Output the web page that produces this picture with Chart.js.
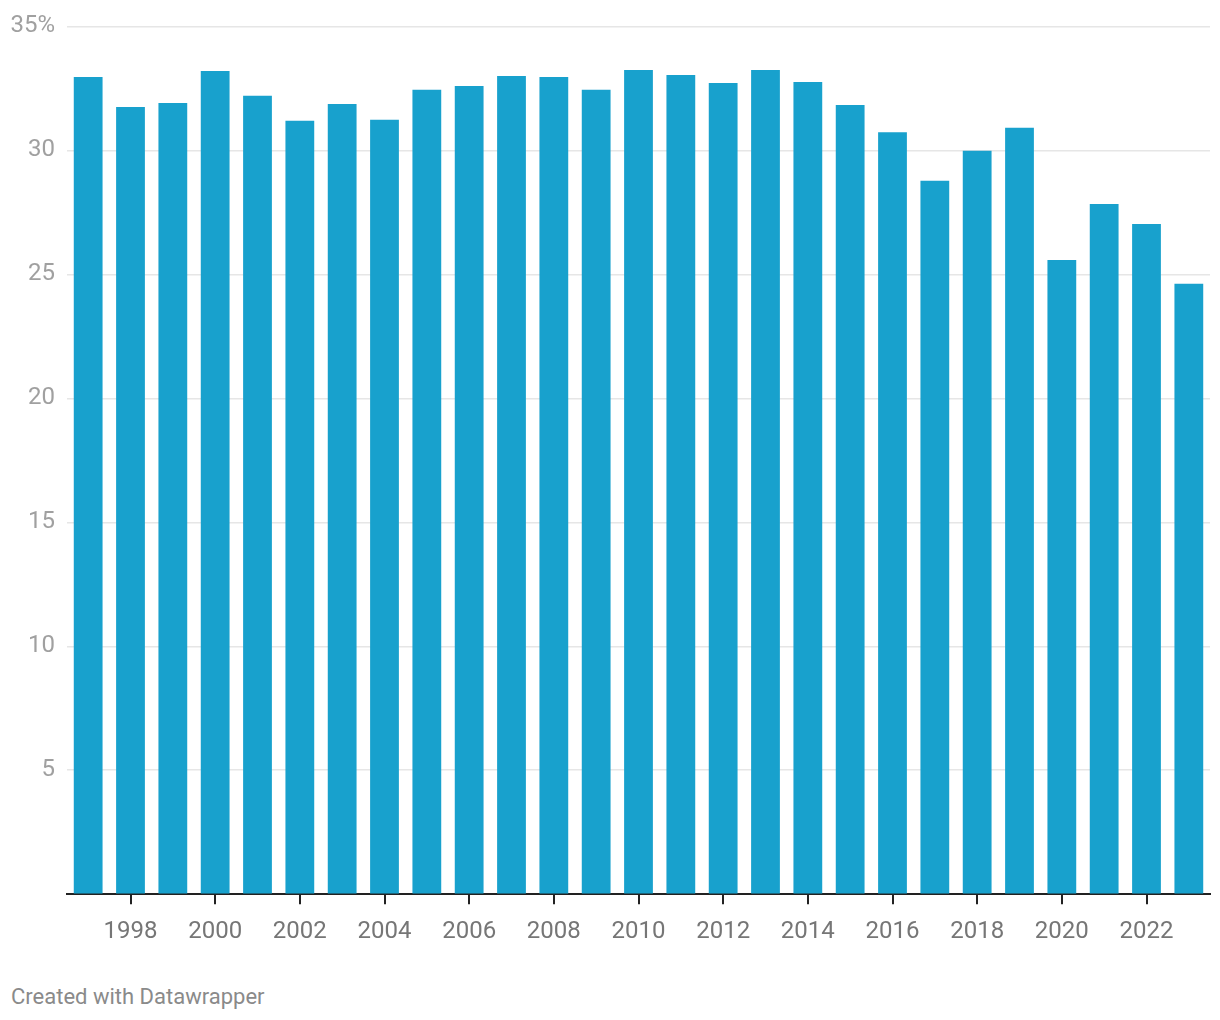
<!DOCTYPE html>
<html>
<head>
<meta charset="utf-8">
<script src="https://cdn.jsdelivr.net/npm/chart.js@4"></script>
<style>
  html, body { margin: 0; padding: 0; background: #fff; }
  body { width: 1220px; height: 1020px; position: relative; font-family: Roboto, sans-serif; }
  #wrap { position: absolute; left: 0; top: 0; width: 1220px; height: 959px; }
  #footer { position: absolute; left: 11px; top: 983px; font-size: 22px; color: #8a8a8a; line-height: 28px; }
</style>
</head>
<body>
<div id="wrap"><canvas id="barChart"></canvas></div>
<div id="footer">Created with Datawrapper</div>
<script>
// Share by year, in percent
const years = ['1997', '1998', '1999', '2000', '2001', '2002', '2003', '2004', '2005', '2006',
    '2007', '2008', '2009', '2010', '2011', '2012', '2013', '2014', '2015', '2016',
    '2017', '2018', '2019', '2020', '2021', '2022', '2023'];
const shares = [32.96, 31.75, 31.91, 33.2, 32.2, 31.19, 31.87, 31.23, 32.44, 32.6,
    33.0, 32.96, 32.44, 33.24, 33.04, 32.72, 33.24, 32.76, 31.83, 30.73,
    28.77, 29.98, 30.91, 25.58, 27.84, 27.03, 24.62];
const yTicks = [0, 5, 10, 15, 20, 25, 30, 35];

const barColor = '#18a1cd';

function initChart() {
    const ctx = document.getElementById('barChart').getContext('2d');

    new Chart(ctx, {
        type: 'bar',
        data: {
            labels: years,
            datasets: [{
                data: shares,
                backgroundColor: barColor,
                borderWidth: 0,
                barPercentage: 0.68,
                categoryPercentage: 1
            }]
        },
        options: {
            responsive: true,
            maintainAspectRatio: false,
            animation: false,
            layout: {
                padding: { top: 24, right: 10, left: 0, bottom: 0 }
            },
            plugins: {
                legend: { display: false },
                tooltip: { enabled: false }
            },
            scales: {
                y: {
                    min: 0,
                    max: 35,
                    afterFit: function(scale) { scale.width = 67; },
                    afterBuildTicks: function(scale) {
                        scale.ticks = yTicks.map(v => ({ value: v }));
                    },
                    border: { display: false },
                    grid: {
                        drawTicks: false,
                        lineWidth: 1.5,
                        color: function(c) {
                            return c.tick && c.tick.value === 0 ? 'rgba(0,0,0,0)' : '#e6e6e6';
                        }
                    },
                    ticks: {
                        padding: 12,
                        color: '#a0a0a0',
                        font: { family: 'Roboto', size: 24 },
                        callback: function(value) {
                            if (value === 0) return '';
                            if (value === 35) return '35%';
                            return value;
                        }
                    }
                },
                x: {
                    offset: true,
                    border: { display: true, color: '#222', width: 2 },
                    grid: {
                        offset: false,
                        drawOnChartArea: false,
                        drawTicks: true,
                        tickLength: 10,
                        lineWidth: 2,
                        color: function(c) {
                            return c.index % 2 === 1 ? '#222' : 'rgba(0,0,0,0)';
                        }
                    },
                    ticks: {
                        autoSkip: false,
                        maxRotation: 0,
                        padding: 13,
                        color: '#767676',
                        font: { family: 'Roboto', size: 24 },
                        callback: function(value, index) {
                            return index % 2 === 1 ? years[index] : '';
                        }
                    }
                }
            }
        }
    });
}

initChart();
</script>
</body>
</html>
